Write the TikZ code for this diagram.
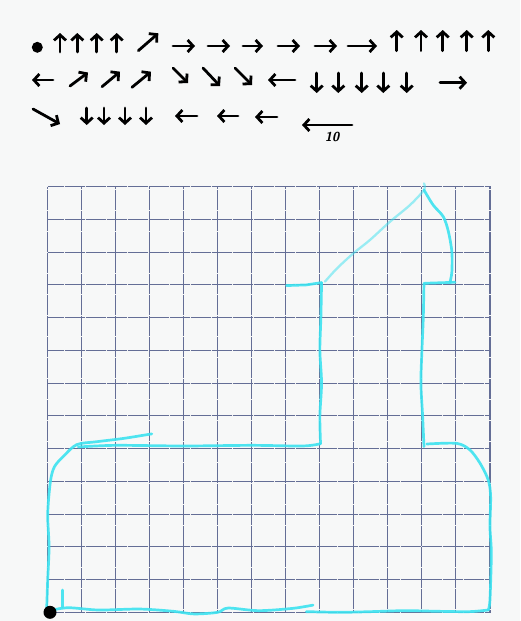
\documentclass[tikz,border=0pt]{standalone}
\usetikzlibrary{arrows.meta}
\definecolor{paper}{RGB}{247,248,248}
\definecolor{gridc}{RGB}{100,110,150}
\definecolor{pen}{RGB}{60,226,240}
\tikzset{
  harrow/.style={line width=2.8pt, line cap=round, line join=round, black,
    -{Straight Barb[length=5.5pt,width=12pt]}},
  gridline/.style={draw=gridc, line width=1.1pt, dash pattern=on 0.7pt off 0.35pt},
  penline/.style={draw=pen, line width=2.7pt, line cap=round, line join=round, opacity=0.9},
  penlight/.style={draw=pen, line width=2.3pt, line cap=round, line join=round, opacity=0.5},
}
\begin{document}
\begin{tikzpicture}[x=1pt,y=-1pt]
\fill[paper] (0,0) rectangle (520,621);
\useasboundingbox (0,0) rectangle (520,621);
% ---- row 1 of instructions ----
\fill (37.3,47.3) circle (5.5pt);
\foreach \x in {60,77.3,96.7,116.7} \draw[harrow] (\x,52) -- (\x,33);
\draw[harrow] (138.3,50.7) -- (158.3,33.3);
\foreach \a/\b in {173/195,208/230,243/263,278/300,315/337,348/377} \draw[harrow] (\a,46) -- (\b,46);
\foreach \x in {396.7,421,442.7,466.7,488.3} \draw[harrow] (\x,50.7) -- (\x,30);
% ---- row 2 ----
\draw[harrow] (53,80) -- (32,80);
\draw[harrow] (70,86) -- (88,72.5);
\draw[harrow] (102,86.7) -- (120,71.7);
\draw[harrow] (132,87.3) -- (151,71.7);
\draw[harrow] (173,68) -- (188,83);
\draw[harrow] (203,68) -- (220,86);
\draw[harrow] (235,68) -- (252,85);
\draw[harrow] (295,80) -- (268,80);
\foreach \x in {316.7,338.3,361.7,383.3,406.7} \draw[harrow] (\x,73) -- (\x,93);
\draw[harrow] (440,82.7) -- (467,82.7);
% ---- row 3 ----
\draw[harrow] (33,109) -- (60,124);
\foreach \x in {86.7,104,125,146} \draw[harrow] (\x,108) -- (\x,125);
\draw[harrow] (197,116) -- (175,116);
\draw[harrow] (238,116) -- (217,116);
\draw[harrow] (277,117) -- (255,117);
\draw[harrow] (352,125) -- (302,125);
\node[font=\sffamily\itshape\bfseries\fontsize{13}{14}\selectfont] (ten) at (332,137) {10};
% ---- grid ----
\begin{scope}[shift={(47.7,612.3)}, x={(34.02pt,0pt)}, y={(0pt,32.74pt)}]
\foreach \i in {0,...,13} {
  \draw[gridline] (\i,0) -- (\i,13);
  \draw[gridline] (0,\i) -- (13,\i);
}
% cyan path
\draw[penline] plot[smooth] coordinates {(-0.03,0.1) (0.0,1) (0.04,2) (0.0,3) (0.08,4.0) (0.2,4.45) (0.46,4.76) (0.85,5.12) (1.44,5.21) (2.22,5.31) (3.06,5.45)};
\draw[penline] plot[smooth] coordinates {(0.9,5.05) (2,5.1) (4,5.08) (6,5.1) (7.5,5.08) (8.02,5.15)};
\draw[penline] plot[smooth] coordinates {(8.02,5.15) (8.0,6) (8.05,7) (8.0,8) (8.03,9) (8.05,10.07)};
\draw[penline] (7.02,9.98) -- (7.6,10.0) -- (8.05,10.07);
\draw[penlight] plot[smooth] coordinates {(8.15,10.1) (8.5,10.5) (8.98,10.96) (9.47,11.37) (10.06,11.93) (10.65,12.44) (11.06,12.9) (11.06,13.1)};
\draw[penline] plot[smooth] coordinates {(11.06,12.9) (11.33,12.44) (11.63,12.08) (11.78,11.62) (11.88,11.01) (11.88,10.4) (11.83,10.1)};
\draw[penline] (11.97,10.08) -- (11.09,10.05);
\draw[penline] plot[smooth] coordinates {(11.06,10.05) (11.04,9) (11.0,8) (10.97,7) (11.02,6) (11.06,5.06)};
\draw[penline] plot[smooth] coordinates {(11.14,5.14) (12.02,5.16) (12.41,4.96) (12.71,4.55) (12.95,4.04) (13.02,3.53) (13.0,2.61) (13.04,1.8) (13.0,0.38) (12.95,0.07)};
\draw[penline] plot[smooth] coordinates {(0.05,0.05) (0.6,0.14) (1.5,0.07) (2.7,0.1) (3.7,0.03) (4.3,-0.05) (5.0,0.0) (5.3,0.13) (6.2,0.05) (7.2,0.12) (7.8,0.22)};
\draw[penline] plot[smooth] coordinates {(7.6,0.02) (8.6,0.0) (9.5,0.02) (10.5,0.05) (11.5,0.03) (12.4,0.02) (12.95,0.07)};
\draw[penline] (0.43,0.68) -- (0.43,0.17);
\end{scope}
\fill (50,612.3) circle (6.5pt);
\end{tikzpicture}
\end{document}
